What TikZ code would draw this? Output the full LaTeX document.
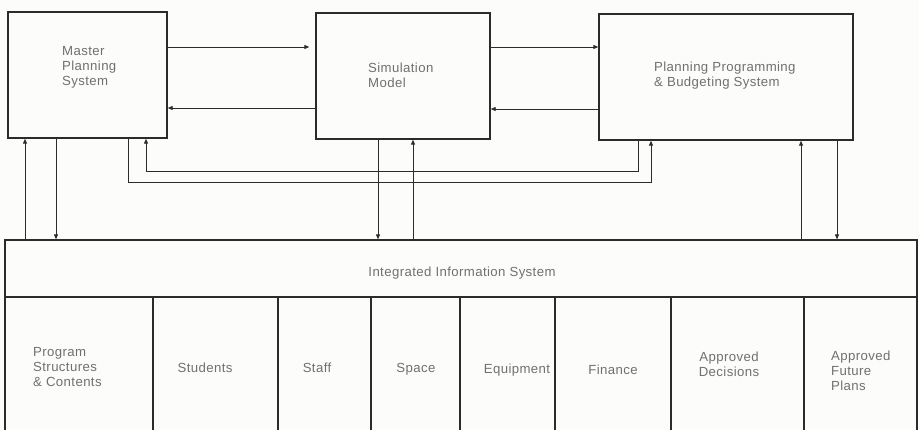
\documentclass[tikz,border=0pt]{standalone}
\usepackage{fontspec}
\setmainfont{Liberation Sans}
\usetikzlibrary{arrows.meta}
\definecolor{ink}{HTML}{2B2B2B}
\definecolor{txt}{HTML}{707070}
\definecolor{paper}{HTML}{FCFCFA}
\begin{document}
\begin{tikzpicture}[x=1pt,y=-1pt,
  box/.style={draw=ink,line width=1.4pt,inner sep=0pt,rectangle},
  cell/.style={draw=ink,line width=1.2pt,inner sep=0pt,rectangle},
  lbl/.style={text=txt,font=\fontsize{13.2}{15}\selectfont\addfontfeatures{LetterSpace=3},inner sep=0pt},
  arr/.style={draw=ink,line width=0.9pt,-{Triangle[length=5pt,width=4pt]}},
  ln/.style={draw=ink,line width=0.9pt}]
\fill[paper] (0,0) rectangle (919,430);
\clip (0,0) rectangle (919,430);
% top boxes
\node[box,minimum width=159pt,minimum height=126pt] (master) at (87.5,75) {};
\node[box,minimum width=174pt,minimum height=126pt] (sim) at (403,76) {};
\node[box,minimum width=254pt,minimum height=126pt] (ppb) at (726,77) {};
\node[lbl,anchor=west,align=left] (mastert) at (62,67) {Master\\Planning\\System};
\node[lbl,anchor=west,align=left] (simt) at (368,75.5) {Simulation\\Model};
\node[lbl,anchor=west,align=left] (ppbt) at (654,76) {Planning Programming\\\& Budgeting System};
% integrated information system
\node[cell,minimum width=912pt,minimum height=57pt] (iis) at (461,268.5) {};
\node[lbl] (iist) at (462,273) {Integrated Information System};
% cells
\foreach \n/\a/\b in {c1/5/153,c2/153/278,c3/278/371,c4/371/460,c5/460/555,c6/555/671,c7/671/804,c8/804/917}{
  \node[cell,minimum width={\b-\a},minimum height=140pt] (\n) at ({(\a+\b)/2},367) {};
}
\node[lbl,anchor=west,align=left] (t1) at (33,367) {Program\\Structures\\\& Contents};
\node[lbl] (t2) at (205,368) {Students};
\node[lbl] (t3) at (317,368) {Staff};
\node[lbl] (t4) at (416,369) {Space};
\node[lbl] (t5) at (517,370) {Equipment};
\node[lbl] (t6) at (613,370) {Finance};
\node[lbl,align=center] (t7) at (729,364) {Approved\\Decisions};
\node[lbl,anchor=west,align=left] (t8) at (831,371) {Approved\\Future\\Plans};
% coordinates for connectors
\coordinate (ya) at (0,47);
\coordinate (yb) at (0,108);
\coordinate (yc) at (0,47);
\coordinate (yd) at (0,109);
\coordinate (xa) at (25,0);
\coordinate (xb) at (56,0);
\coordinate (xc) at (378,0);
\coordinate (xd) at (413,0);
\coordinate (xe) at (801,0);
\coordinate (xf) at (837,0);
\coordinate (a1) at (128,182);
\coordinate (a2) at (651,182);
\coordinate (b1) at (638,171);
\coordinate (b2) at (146,171);
% horizontal links
\draw[arr,shorten >=6pt] (master.east |- ya) -- (sim.west |- ya);
\draw[arr] (sim.west |- yb) -- (master.east |- yb);
\draw[arr] (sim.east |- yc) -- (ppb.west |- yc);
\draw[arr] (ppb.west |- yd) -- (sim.east |- yd);
% vertical links
\draw[arr] (iis.north -| xa) -- (master.south -| xa);
\draw[arr] (master.south -| xb) -- (iis.north -| xb);
\draw[arr] (sim.south -| xc) -- (iis.north -| xc);
\draw[arr] (iis.north -| xd) -- (sim.south -| xd);
\draw[arr] (iis.north -| xe) -- (ppb.south -| xe);
\draw[arr] (ppb.south -| xf) -- (iis.north -| xf);
% long loops
\draw[arr] (master.south -| a1) -- (a1) -- (a2) -- (ppb.south -| a2);
\draw[arr] (ppb.south -| b1) -- (b1) -- (b2) -- (master.south -| b2);
\end{tikzpicture}
\end{document}
